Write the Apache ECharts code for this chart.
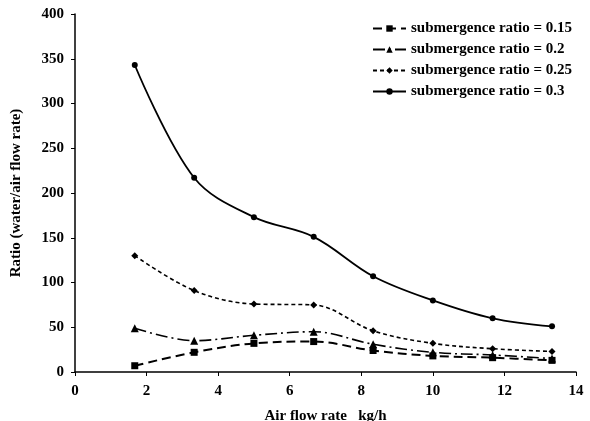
<!DOCTYPE html>
<html>
<head>
<meta charset="utf-8">
<script src="https://cdn.jsdelivr.net/npm/echarts@6/dist/echarts.min.js"></script>
<style>
html, body { margin: 0; padding: 0; background: #fff; }
#chart-container { width: 590px; height: 421px; }
</style>
</head>
<body>
<div id="chart-container"></div>
<script>
// air flow rate (kg/h)
var airFlow = [1.67, 3.33, 5, 6.67, 8.33, 10, 11.67, 13.33];
// ratio water/air flow for each submergence ratio
var sub015 = [7, 22, 32, 34, 24, 18, 16, 13];
var sub02 = [49, 35, 41, 45, 31, 22, 19, 15];
var sub025 = [130, 91, 76, 75, 46, 32, 26, 23];
var sub03 = [343, 217, 173, 151, 107, 80, 60, 51];
var seriesNames = [
    'submergence ratio = 0.15',
    'submergence ratio = 0.2',
    'submergence ratio = 0.25',
    'submergence ratio = 0.3'
];

function pairs(ys) {
    return airFlow.map(function (x, i) { return [x, ys[i]]; });
}

var font = '"Liberation Serif", "Times New Roman", serif';
var container = document.getElementById('chart-container');
var myChart = echarts.init(container);

var styles = [
    { data: sub015, symbol: 'rect', size: 7, dash: [9, 5], width: 2 },
    { data: sub02, symbol: 'triangle', size: 8, dash: [12, 4, 2, 4], width: 1.6 },
    { data: sub025, symbol: 'diamond', size: 7, dash: [4, 3], width: 1.6 },
    { data: sub03, symbol: 'circle', size: 6, dash: 'solid', width: 1.8 }
];

var txt = { fontFamily: font, fontWeight: 'bold', fontSize: 15, color: '#000' };

myChart.setOption({
    animation: false,
    grid: { left: 75, right: 14, top: 14, bottom: 49, outerBoundsMode: 'none', containLabel: false },
    legend: {
        orient: 'vertical',
        left: 367,
        top: 16,
        itemGap: 6,
        itemWidth: 33,
        itemHeight: 8,
        textStyle: txt,
        data: seriesNames
    },
    xAxis: {
        type: 'value',
        min: 0,
        max: 14,
        interval: 2,
        name: 'Air flow rate   kg/h',
        nameLocation: 'middle',
        nameGap: 37,
        nameTextStyle: txt,
        axisLine: { lineStyle: { color: '#000', width: 1.5 } },
        axisTick: { show: true, length: 4, lineStyle: { color: '#000' } },
        axisLabel: Object.assign({ margin: 12 }, txt),
        splitLine: { show: false }
    },
    yAxis: {
        type: 'value',
        min: 0,
        max: 400,
        interval: 50,
        name: 'Ratio (water/air flow rate)',
        nameLocation: 'middle',
        nameGap: 51,
        nameTextStyle: txt,
        axisLine: { show: true, lineStyle: { color: '#000', width: 1.5 } },
        axisTick: { show: true, length: 4, lineStyle: { color: '#000' } },
        axisLabel: Object.assign({ margin: 11 }, txt),
        splitLine: { show: false }
    },
    series: styles.map(function (s, i) {
        return {
            name: seriesNames[i],
            type: 'line',
            smooth: 0.35,
            data: pairs(s.data),
            symbol: s.symbol,
            symbolSize: s.size,
            itemStyle: { color: '#000' },
            lineStyle: { color: '#000', width: s.width, type: s.dash }
        };
    })
});
</script>
</body>
</html>
